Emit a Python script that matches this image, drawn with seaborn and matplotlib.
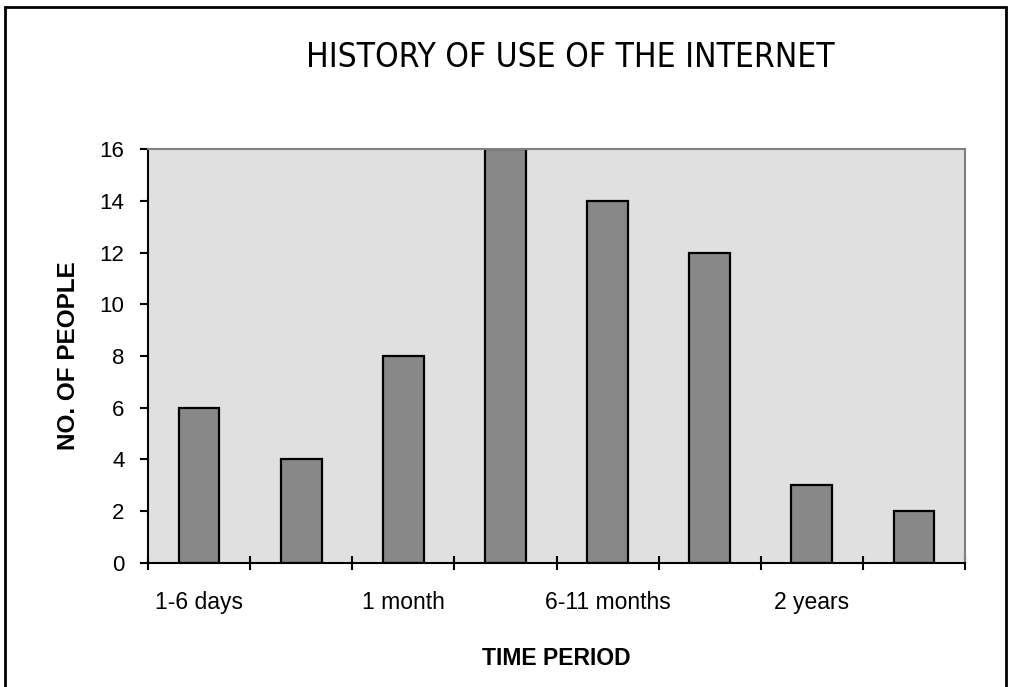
import matplotlib
matplotlib.use("Agg")
import matplotlib.pyplot as plt
from matplotlib.patches import Rectangle
import seaborn as sns
import pandas as pd

# data
positions = [0, 1, 2, 3, 4, 5, 6, 7]
people = [6, 4, 8, 16, 14, 12, 3, 2]
tick_labels = ["1-6 days", "", "1 month", "", "6-11 months", "", "2 years", ""]

sns.set_style("white")
plt.rcParams["font.family"] = ["Liberation Sans", "DejaVu Sans"]
plt.rcParams["text.color"] = "black"
plt.rcParams["xtick.color"] = "black"
plt.rcParams["ytick.color"] = "black"
plt.rcParams["axes.labelcolor"] = "black"

df = pd.DataFrame({"period": positions, "people": people})

fig = plt.figure(figsize=(10.11, 6.87), dpi=100)
ax = fig.add_axes([0.1464, 0.1805, 0.8081, 0.6026])
ax.set_facecolor("#e0e0e0")

sns.barplot(data=df, x="period", y="people", order=positions, color="#888888",
            width=0.4, edgecolor="black", linewidth=1.6, saturation=1, ax=ax)

ax.set_xlim(-0.5, 7.5)
ax.set_ylim(0, 16)
ax.set_yticks(range(0, 17, 2))
ax.set_xticks([p - 0.5 for p in positions] + [7.5])
ax.set_xticklabels([])
ax.set_xticks(positions, minor=True)
ax.set_xticklabels(tick_labels, minor=True)
ax.tick_params(axis="x", which="major", bottom=True, direction="inout", length=10, width=1.5)
ax.tick_params(axis="x", which="minor", bottom=True, length=0, pad=20, labelsize=16.5)
ax.tick_params(axis="y", left=True, direction="out", length=6, width=1.5, labelsize=16, pad=11)

for side in ["left", "bottom"]:
    ax.spines[side].set_color("black")
    ax.spines[side].set_linewidth(1.5)
for side in ["top", "right"]:
    ax.spines[side].set_visible(True)
    ax.spines[side].set_color("#808080")
    ax.spines[side].set_linewidth(1.5)

ax.set_xlabel("TIME PERIOD", fontsize=16.5, fontweight="bold", labelpad=24)
ax.set_ylabel("NO. OF PEOPLE", fontsize=17.5, fontweight="bold", labelpad=14)
fig.text(0.564, 0.917, "HISTORY OF USE OF THE INTERNET", ha="center", va="center",
         fontsize=24, family="DejaVu Sans", fontstretch="condensed")

fig.patches.append(Rectangle((0.005, -0.02), 0.99, 1.01, transform=fig.transFigure,
                             fill=False, edgecolor="black", linewidth=2))

fig.savefig("out.png", dpi=100)
